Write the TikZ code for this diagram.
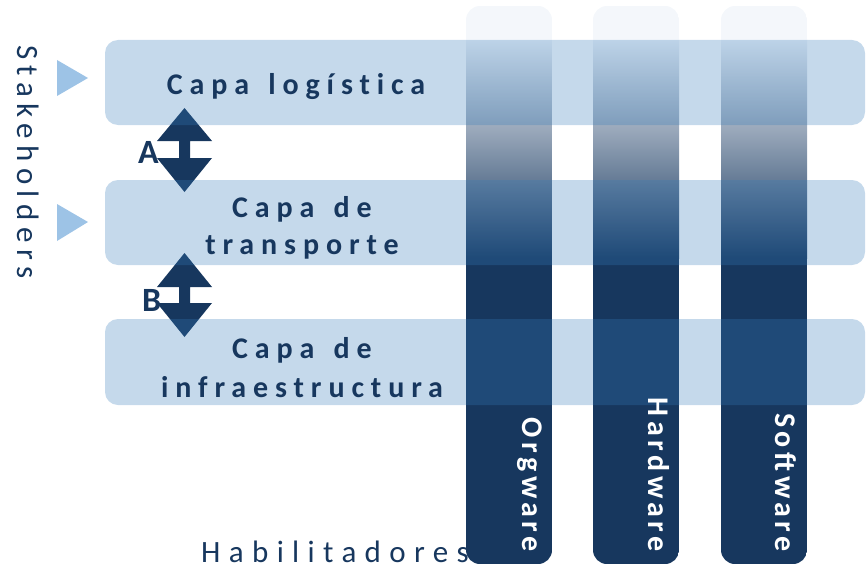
\documentclass[tikz,border=0pt]{standalone}
\usepackage{fontspec}
\setmainfont{Carlito}
\newfontfamily\capafont{Carlito}[LetterSpace=23,WordSpace=1.4,Ligatures=NoCommon]
\newfontfamily\stkfont{Carlito}[LetterSpace=21]
\newfontfamily\habfont{Carlito}[LetterSpace=27]
\newfontfamily\colfont{Carlito}[LetterSpace=15]
\definecolor{navy}{RGB}{23,55,94}
\definecolor{bandblue}{RGB}{52,122,185}
\definecolor{tri}{RGB}{157,195,230}
\definecolor{coltop}{RGB}{244,247,251}
\tikzset{
  capa/.style={font=\capafont\bfseries\fontsize{30}{37}\selectfont, text=navy, inner sep=0pt, anchor=base},
  sidetext/.style={text=navy, inner sep=0pt},
  lab/.style={font=\bfseries\fontsize{34}{40}\selectfont, text=navy, inner sep=0pt, anchor=base west},
  colab/.style={font=\colfont\bfseries\fontsize{30}{36}\selectfont, text=white, inner sep=0pt, rotate=-90, anchor=base east},
  band/.style={fill=bandblue, fill opacity=0.285, rounded corners=13pt},
  tribox/.style={fill=tri},
  blockarrow/.style={fill=navy}
}
\begin{document}
\begin{tikzpicture}[x=1pt,y=-1pt]
\useasboundingbox (0,0) rectangle (866,567);
% side texts
\node[sidetext, font=\stkfont\fontsize{31}{37}\selectfont, rotate=-90, anchor=base west] (stake) at (17,45) {Stakeholders};
\node[sidetext, font=\habfont\fontsize{31}{37}\selectfont, anchor=base west] (habil) at (201,562) {Habilitadores};
% triangles
\fill[tribox] (57,60) -- (88,78) -- (57,96) -- cycle;
\fill[tribox] (57,204) -- (88,222) -- (57,241) -- cycle;
% double arrows
\fill[blockarrow] (184.5,108) -- (212,141) -- (190,141) -- (190,158) -- (212,158) -- (184.5,192) -- (157,158) -- (179,158) -- (179,141) -- (157,141) -- cycle;
\fill[blockarrow] (184.5,253) -- (212,287) -- (190,287) -- (190,303) -- (212,303) -- (184.5,337) -- (157,303) -- (179,303) -- (179,287) -- (157,287) -- cycle;
\node[lab] (labA) at (138,163) {A};
\node[lab] (labB) at (142,311) {B};
% columns
\foreach \x in {466,593,721}{
  \begin{scope}
    \clip[rounded corners=14pt] (\x,6) rectangle (\x+86,564);
    \fill[coltop] (\x,6) rectangle (\x+86,40.5);
    \shade[top color=coltop, bottom color=navy] (\x,40) rectangle (\x+86,258);
    \fill[navy] (\x,257.5) rectangle (\x+86,564);
  \end{scope}
}
% bands
\fill[band] (105,40) rectangle (865,125);
\fill[band] (105,180) rectangle (865,265);
\fill[band] (105,319) rectangle (865,405);
% band texts
\node[capa] (log) at (296,95) {Capa logística};
\node[capa] (tra1) at (302,217) {Capa de};
\node[capa] (tra2) at (302,254) {transporte};
\node[capa] (inf1) at (302,358) {Capa de};
\node[capa] (inf2) at (302,397) {infraestructura};
% column labels
\node[colab] (org) at (522,552) {Orgware};
\node[colab] (hw) at (648,552) {Hardware};
\node[colab] (sw) at (775,552) {Software};
\end{tikzpicture}
\end{document}
